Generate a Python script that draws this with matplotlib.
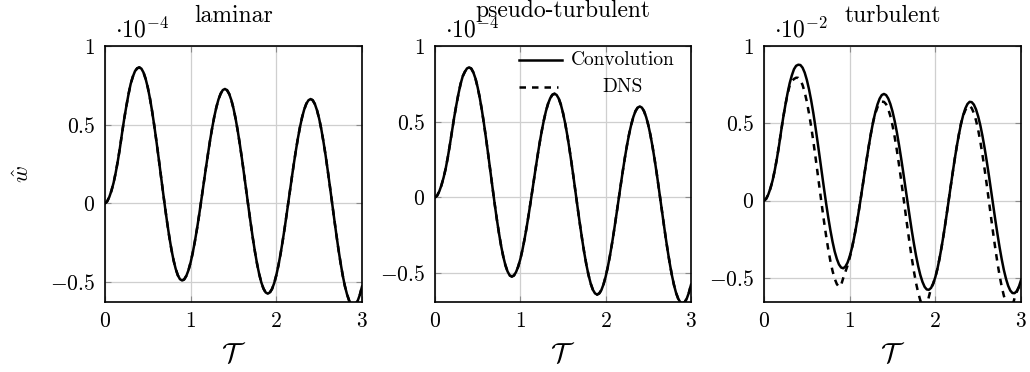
import matplotlib
matplotlib.use("Agg")
import matplotlib.pyplot as plt
from matplotlib.lines import Line2D

# ---------------- data (values in displayed, scaled units) ----------------
T = [0.000, 0.025, 0.050, 0.075, 0.100, 0.125, 0.150, 0.175, 0.200, 0.225,
     0.250, 0.275, 0.300, 0.325, 0.350, 0.375, 0.400, 0.425, 0.450, 0.475,
     0.500, 0.525, 0.550, 0.575, 0.600, 0.625, 0.650, 0.675, 0.700, 0.725,
     0.750, 0.775, 0.800, 0.825, 0.850, 0.875, 0.900, 0.925, 0.950, 0.975,
     1.000, 1.025, 1.050, 1.075, 1.100, 1.125, 1.150, 1.175, 1.200, 1.225,
     1.250, 1.275, 1.300, 1.325, 1.350, 1.375, 1.400, 1.425, 1.450, 1.475,
     1.500, 1.525, 1.550, 1.575, 1.600, 1.625, 1.650, 1.675, 1.700, 1.725,
     1.750, 1.775, 1.800, 1.825, 1.850, 1.875, 1.900, 1.925, 1.950, 1.975,
     2.000, 2.025, 2.050, 2.075, 2.100, 2.125, 2.150, 2.175, 2.200, 2.225,
     2.250, 2.275, 2.300, 2.325, 2.350, 2.375, 2.400, 2.425, 2.450, 2.475,
     2.500, 2.525, 2.550, 2.575, 2.600, 2.625, 2.650, 2.675, 2.700, 2.725,
     2.750, 2.775, 2.800, 2.825, 2.850, 2.875, 2.900, 2.925, 2.950, 2.975,
     3.000]

laminar_conv = [
    0.0, 0.012, 0.04, 0.08, 0.13, 0.195, 0.27, 0.355, 0.45, 0.54,
    0.62, 0.695, 0.76, 0.805, 0.84, 0.858, 0.864, 0.856, 0.831, 0.79,
    0.735, 0.666, 0.585, 0.494, 0.396, 0.293, 0.187, 0.081, -0.022, -0.12,
    -0.211, -0.292, -0.361, -0.416, -0.457, -0.482, -0.49, -0.483, -0.46, -0.424,
    -0.374, -0.312, -0.239, -0.158, -0.07, 0.024, 0.119, 0.214, 0.306, 0.395,
    0.476, 0.549, 0.611, 0.661, 0.697, 0.72, 0.727, 0.719, 0.695, 0.656,
    0.603, 0.537, 0.459, 0.372, 0.278, 0.178, 0.077, -0.025, -0.124, -0.219,
    -0.306, -0.384, -0.45, -0.503, -0.542, -0.566, -0.574, -0.566, -0.544, -0.507,
    -0.456, -0.393, -0.319, -0.236, -0.147, -0.052, 0.045, 0.141, 0.236, 0.325,
    0.408, 0.482, 0.545, 0.596, 0.633, 0.655, 0.663, 0.655, 0.631, 0.591,
    0.538, 0.471, 0.392, 0.305, 0.209, 0.109, 0.007, -0.096, -0.196, -0.292,
    -0.379, -0.458, -0.525, -0.578, -0.618, -0.642, -0.65, -0.642, -0.619, -0.581,
    -0.529]
laminar_dns = list(laminar_conv)

pseudo_conv = [
    0.0, 0.012, 0.04, 0.08, 0.13, 0.19, 0.265, 0.35, 0.44, 0.53,
    0.61, 0.685, 0.75, 0.80, 0.83, 0.852, 0.859, 0.851, 0.825, 0.784,
    0.727, 0.657, 0.574, 0.482, 0.382, 0.277, 0.169, 0.061, -0.045, -0.145,
    -0.237, -0.32, -0.39, -0.447, -0.488, -0.514, -0.522, -0.515, -0.492, -0.456,
    -0.407, -0.345, -0.273, -0.193, -0.105, -0.013, 0.082, 0.176, 0.268, 0.356,
    0.436, 0.508, 0.57, 0.619, 0.655, 0.678, 0.685, 0.677, 0.653, 0.613,
    0.558, 0.491, 0.412, 0.323, 0.227, 0.126, 0.022, -0.082, -0.183, -0.279,
    -0.368, -0.447, -0.514, -0.569, -0.609, -0.633, -0.641, -0.633, -0.611, -0.573,
    -0.522, -0.459, -0.385, -0.302, -0.212, -0.117, -0.02, 0.077, 0.172, 0.262,
    0.345, 0.419, 0.482, 0.533, 0.571, 0.593, 0.601, 0.593, 0.569, 0.53,
    0.477, 0.411, 0.333, 0.246, 0.152, 0.052, -0.05, -0.151, -0.251, -0.345,
    -0.432, -0.51, -0.576, -0.63, -0.668, -0.692, -0.70, -0.692, -0.668, -0.629,
    -0.576]
pseudo_dns = list(pseudo_conv)

turb_conv = [
    0.0, 0.012, 0.04, 0.08, 0.13, 0.195, 0.27, 0.355, 0.45, 0.54,
    0.62, 0.695, 0.76, 0.81, 0.85, 0.872, 0.879, 0.877, 0.86, 0.828,
    0.781, 0.721, 0.65, 0.569, 0.478, 0.382, 0.282, 0.181, 0.08, -0.017,
    -0.108, -0.191, -0.265, -0.328, -0.376, -0.412, -0.432, -0.437, -0.426, -0.401,
    -0.361, -0.309, -0.245, -0.171, -0.089, -0.001, 0.09, 0.182, 0.272, 0.359,
    0.44, 0.512, 0.573, 0.623, 0.66, 0.683, 0.69, 0.683, 0.661, 0.625,
    0.577, 0.516, 0.445, 0.364, 0.277, 0.185, 0.089, -0.006, -0.101, -0.193,
    -0.278, -0.356, -0.424, -0.481, -0.525, -0.557, -0.574, -0.576, -0.564, -0.536,
    -0.494, -0.439, -0.371, -0.293, -0.208, -0.116, -0.021, 0.076, 0.171, 0.264,
    0.35, 0.428, 0.496, 0.553, 0.596, 0.625, 0.639, 0.637, 0.621, 0.59,
    0.545, 0.488, 0.419, 0.341, 0.255, 0.164, 0.068, -0.028, -0.124, -0.215,
    -0.301, -0.379, -0.448, -0.505, -0.55, -0.581, -0.597, -0.598, -0.585, -0.557,
    -0.514]
turb_dns = [
    0.0, 0.012, 0.04, 0.08, 0.13, 0.195, 0.27, 0.355, 0.45, 0.54,
    0.62, 0.69, 0.745, 0.772, 0.787, 0.795, 0.794, 0.779, 0.748, 0.701,
    0.64, 0.565, 0.481, 0.387, 0.286, 0.181, 0.075, -0.03, -0.132, -0.227,
    -0.314, -0.391, -0.454, -0.504, -0.539, -0.557, -0.545, -0.50, -0.46, -0.42,
    -0.37, -0.312, -0.245, -0.171, -0.089, -0.001, 0.09, 0.182, 0.272, 0.359,
    0.44, 0.512, 0.565, 0.605, 0.628, 0.64, 0.639, 0.624, 0.593, 0.547,
    0.487, 0.413, 0.329, 0.236, 0.137, 0.033, -0.072, -0.176, -0.277, -0.371,
    -0.457, -0.533, -0.595, -0.645, -0.679, -0.697, -0.68, -0.62, -0.566, -0.536,
    -0.494, -0.439, -0.371, -0.293, -0.208, -0.116, -0.021, 0.076, 0.171, 0.264,
    0.35, 0.428, 0.50, 0.55, 0.585, 0.607, 0.613, 0.598, 0.566, 0.519,
    0.458, 0.383, 0.297, 0.204, 0.104, 0.0, -0.106, -0.21, -0.309, -0.401,
    -0.484, -0.556, -0.615, -0.659, -0.688, -0.70, -0.68, -0.63, -0.59, -0.56,
    -0.52]

titles = ["laminar", "pseudo-turbulent", "turbulent"]
scales = [r"$\cdot 10^{-4}$", r"$\cdot 10^{-4}$", r"$\cdot 10^{-2}$"]
ymins = [-0.627, -0.69, -0.655]
xticks = [0, 1, 2, 3]
yticks = [-0.5, 0, 0.5, 1]
ytick_labels = [r"$-0.5$", r"$0$", r"$0.5$", r"$1$"]
xtick_labels = [r"$0$", r"$1$", r"$2$", r"$3$"]
legend_labels = ["Convolution", "DNS"]

conv_series = [laminar_conv, pseudo_conv, turb_conv]
dns_series = [laminar_dns, pseudo_dns, turb_dns]

# ---------------- style ----------------
plt.rcParams.update({
    "font.family": "serif",
    "font.serif": ["cmr10"],
    "mathtext.fontset": "cm",
    "axes.unicode_minus": False,
})

W, H = 1030, 372
fig = plt.figure(figsize=(W / 100, H / 100), dpi=100)

panel_x = [(105, 362), (435, 691), (764, 1021)]
top_px, bot_px = 46, 302
title_base = [22, 17, 22]
LW = 1.8
DASH = (0, (2.6, 2.4))

for i in range(3):
    l, r = panel_x[i]
    ax = fig.add_axes([l / W, 1 - bot_px / H, (r - l) / W, (bot_px - top_px) / H])
    ax.plot(T, dns_series[i], color="black", lw=LW, ls=DASH, zorder=3)
    ax.plot(T, conv_series[i], color="black", lw=LW, zorder=4)
    ax.set_xlim(0, 3)
    ax.set_ylim(ymins[i], 1)
    ax.set_xticks(xticks)
    ax.set_xticklabels(xtick_labels)
    ax.set_yticks(yticks)
    ax.set_yticklabels(ytick_labels)
    ax.grid(True, color="#cfcfcf", lw=0.9)
    ax.set_axisbelow(True)
    ax.tick_params(direction="in", top=True, right=True, length=4, width=0.8,
                   color="#8a8a8a", labelsize=15.5, pad=7)
    for s in ax.spines.values():
        s.set_linewidth(1.2)
        s.set_color("black")
    ax.set_xlabel(r"$\mathcal{T}$", fontsize=20)
    ax.xaxis.set_label_coords(0.5, -0.155)
    if i == 0:
        ax.set_ylabel(r"$\hat{w}$", fontsize=16.5)
        ax.yaxis.set_label_coords(-0.282, 0.5)
    fig.text((l + 10) / W, 1 - 37.5 / H, scales[i], fontsize=17,
             ha="left", va="baseline")
    fig.text((l + r) / 2 / W, 1 - title_base[i] / H, titles[i], fontsize=17,
             ha="center", va="baseline")
    if i == 1:
        ax.add_line(Line2D([0.328, 0.496], [0.945, 0.945], transform=ax.transAxes,
                           color="black", lw=LW))
        ax.add_line(Line2D([0.328, 0.482], [0.840, 0.840], transform=ax.transAxes,
                           color="black", lw=LW, ls=DASH))
        ax.text(0.734, 0.945, legend_labels[0], transform=ax.transAxes,
                ha="center", va="center", fontsize=14)
        ax.text(0.734, 0.840, legend_labels[1], transform=ax.transAxes,
                ha="center", va="center", fontsize=14)

fig.savefig("out.png", dpi=100)
